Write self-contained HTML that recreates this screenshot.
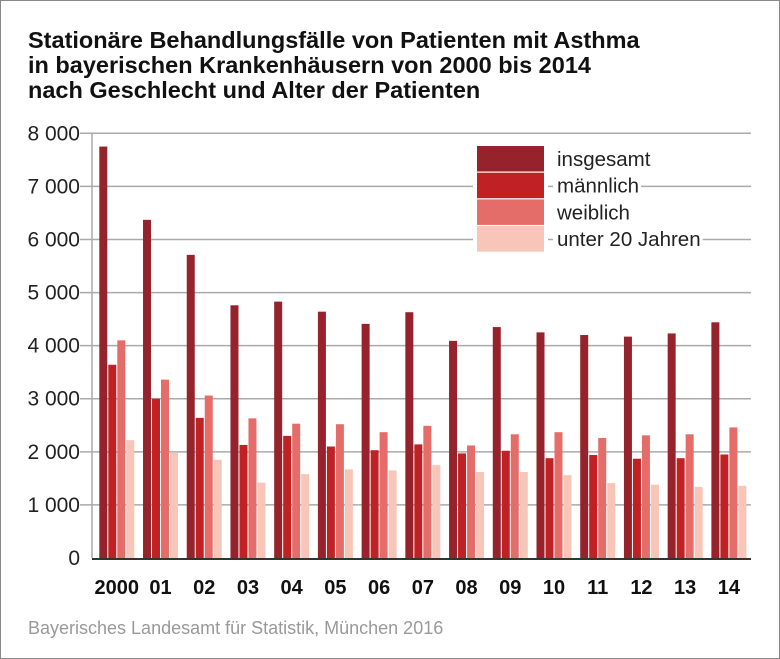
<!DOCTYPE html>
<html><head><meta charset="utf-8"><style>
body{margin:0;background:#fff}
#wrap{position:relative;width:780px;height:659px;overflow:hidden}
svg text{font-family:"Liberation Sans",Arial,sans-serif}
</style></head><body>
<div id="wrap">
<svg id="chart" width="780" height="659">
<rect x="0.5" y="0.5" width="779" height="658" fill="#fff" stroke="#888"/>
<g font-weight="bold" font-size="23.5" fill="#111">
<text x="28" y="48">Stationäre Behandlungsfälle von Patienten mit Asthma</text>
<text x="28" y="73">in bayerischen Krankenhäusern von 2000 bis 2014</text>
<text x="28" y="98">nach Geschlecht und Alter der Patienten</text>
</g>
<g id="grid"></g><g id="bars"></g><g id="legend"></g>
<text x="28" y="634" font-size="18" fill="#999">Bayerisches Landesamt für Statistik, München 2016</text>
</svg></div>
<script>
const categories=["2000","01","02","03","04","05","06","07","08","09","10","11","12","13","14"];
const insgesamt=[7750,6370,5710,4760,4830,4640,4410,4630,4090,4350,4250,4200,4170,4230,4440];
const maennlich=[3640,3000,2640,2130,2300,2100,2030,2140,1970,2020,1880,1940,1870,1880,1950];
const weiblich=[4100,3360,3060,2630,2530,2520,2370,2490,2120,2330,2370,2260,2310,2330,2460];
const unter20=[2220,1980,1850,1420,1580,1670,1650,1750,1620,1620,1560,1410,1380,1340,1360];
const yTicks=[0,1000,2000,3000,4000,5000,6000,7000,8000];
const yTickLabels=["0","1 000","2 000","3 000","4 000","5 000","6 000","7 000","8 000"];
const seriesNames=["insgesamt","männlich","weiblich","unter 20 Jahren"];
const colors=["#96222b","#c02124","#e46d69","#f8c5b9"];
const NS="http://www.w3.org/2000/svg";
const y0=558,yTop=133.3,yMax=8000;
function y(v){return y0-(v/yMax)*(y0-yTop);}
function x(i){return 99.3+i*43.72;}
function mk(tag,attrs,parent){const e=document.createElementNS(NS,tag);for(const k in attrs)e.setAttribute(k,attrs[k]);parent.appendChild(e);return e;}
const grid=document.getElementById('grid');
yTicks.forEach((t,i)=>{
  if(t>0){const l=mk('line',{x1:80,x2:751,y1:y(t),y2:y(t),stroke:'#aaa','stroke-width':1.5},grid);
  
  }
  const tx=mk('text',{x:80,y:y(t)+7,'text-anchor':'end','font-size':21,fill:'#222'},grid);
  tx.textContent=yTickLabels[i];
  
  
});
const ax=mk('line',{x1:92,x2:92,y1:133,y2:558,stroke:'#aaa','stroke-width':1.5},grid);


const bars=document.getElementById('bars');
const series=[insgesamt,maennlich,weiblich,unter20];
categories.forEach((c,i)=>{
  series.forEach((s,j)=>{
    const r=mk('rect',{x:x(i)+j*9,y:y(s[i]),width:8,height:y0-y(s[i]),fill:colors[j]},bars);
    
    
  });
  const t=mk('text',{x:x(i)+17.5,y:594,'text-anchor':'middle','font-size':20,'font-weight':'bold',fill:'#111'},bars);
  t.textContent=c;
  
  
});
const xa=mk('line',{x1:92,x2:751,y1:559,y2:559,stroke:'#333','stroke-width':2},bars);


const lg=document.getElementById('legend');
mk('rect',{x:473,y:144,width:75,height:110,fill:'#fff'},lg);
seriesNames.forEach((n,j)=>{
  const r=mk('rect',{x:477,y:146+j*26.7,width:67,height:25.5,fill:colors[j]},lg);
  
  
  const t=mk('text',{x:557,y:166+j*26.7,'font-size':20.5,fill:'#222'},lg);
  t.textContent=n;
  
  
  const w=t.getComputedTextLength();
  const bg=mk('rect',{x:553,y:150+j*26.7,width:w+6,height:20,fill:'#fff'},lg);
  lg.insertBefore(bg,t);
});
</script>
</body></html>
